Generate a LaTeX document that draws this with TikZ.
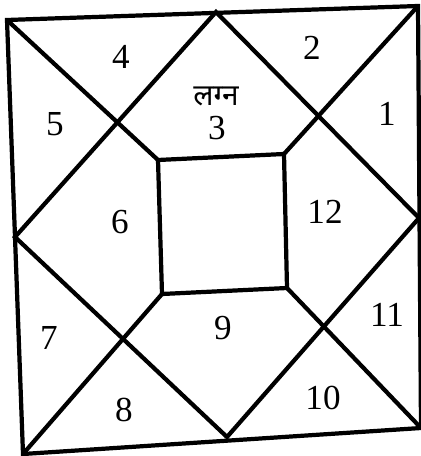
\documentclass[tikz,border=0pt]{standalone}
\usepackage{fontspec}
\setmainfont{Liberation Serif}
\newfontfamily\devfont[Script=Devanagari]{Noto Sans}
\begin{document}
\begin{tikzpicture}[x=0.02cm, y=-0.02cm,
    chart/.style={line width=2.4pt, line join=miter},
    house/.style={font=\fontsize{20}{22}\selectfont, inner sep=0pt},
    lagna/.style={font=\devfont\bfseries\fontsize{17}{19}\selectfont, inner sep=0pt},
]
\useasboundingbox (0,0) rectangle (420,456);
% outer frame
\coordinate (tl) at (7,20);
\coordinate (tr) at (418,6);
\coordinate (br) at (421,428);
\coordinate (bl) at (23,454);
\coordinate (tm) at (216,12);
\coordinate (rm) at (419,218);
\coordinate (bm) at (227,437);
\coordinate (lm) at (15,237);
% inner square
\coordinate (itl) at (158,160);
\coordinate (itr) at (284,154);
\coordinate (ibr) at (287,288);
\coordinate (ibl) at (162,294);

\draw[chart] (tl) -- (tr) -- (br) -- (bl) -- cycle;
\draw[chart] (tm) -- (rm) -- (bm) -- (lm) -- cycle;
\draw[chart] (itl) -- (itr) -- (ibr) -- (ibl) -- cycle;
\draw[chart] (tl) -- (itl);
\draw[chart] (tr) -- (itr);
\draw[chart] (br) -- (ibr);
\draw[chart] (bl) -- (ibl);

% houses
\node[lagna] (lgn) at (216,96) {लग्न};
\node[house] (h3) at (217,128) {3};
\node[house] (h2) at (312,48) {2};
\node[house] (h1) at (387,114) {1};
\node[house] (h4) at (121,57) {4};
\node[house] (h5) at (55,124) {5};
\node[house] (h6) at (120,222) {6};
\node[house] (h12) at (325,212) {12};
\node[house] (h7) at (49,338) {7};
\node[house] (h9) at (223,328) {9};
\node[house] (h11) at (387,315) {11};
\node[house] (h8) at (124,410) {8};
\node[house] (h10) at (323,398) {10};
\end{tikzpicture}
\end{document}
